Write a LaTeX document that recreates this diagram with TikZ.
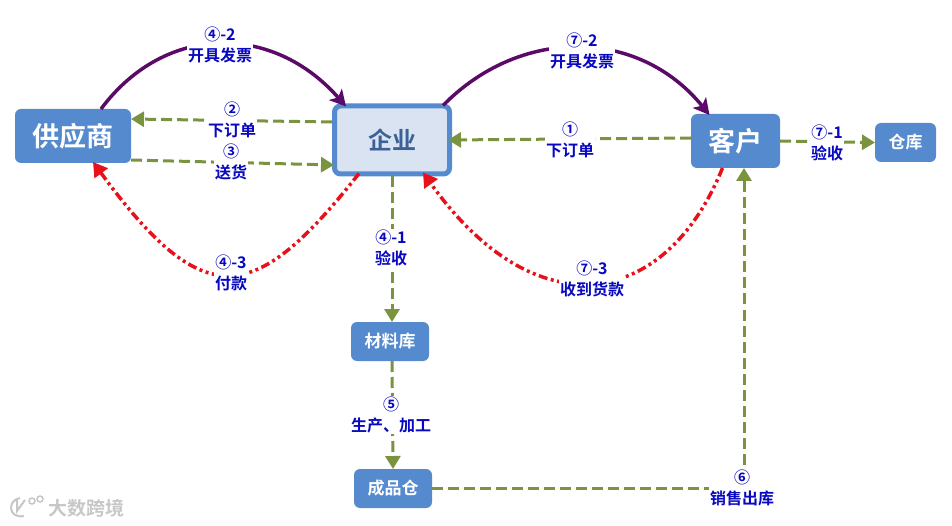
\documentclass[tikz,border=0pt]{standalone}
\usepackage{fontspec}
\setmainfont{Noto Sans CJK SC}[BoldFont={Noto Sans CJK SC Bold}]
\usetikzlibrary{arrows.meta, positioning, calc}
\definecolor{boxblue}{HTML}{558ACF}
\definecolor{boxpale}{HTML}{DAE3F1}
\definecolor{entblue}{HTML}{3B6296}
\definecolor{flowgreen}{HTML}{7A933F}
\definecolor{billpurple}{HTML}{5C0A68}
\definecolor{payred}{HTML}{E8101A}
\definecolor{labelblue}{HTML}{0808C0}

\begin{document}
\begin{tikzpicture}[
    x=1pt, y=-1pt,
    bigbox/.style={fill=boxblue, text=white, rounded corners=6pt, outer sep=0pt, align=center, font=\fontsize{27}{30}\selectfont\bfseries},
    smallbox/.style={fill=boxblue, text=white, rounded corners=6pt, outer sep=0pt, minimum width=78pt, minimum height=39pt, align=center, font=\fontsize{17}{20}\selectfont\bfseries},
    entbox/.style={draw=boxblue, line width=5pt, fill=boxpale, text=entblue, rounded corners=6pt, minimum width=115pt, minimum height=68pt, align=center, font=\fontsize{24}{28}\selectfont\bfseries},
    flowline/.style={draw=flowgreen, line width=3pt, dash pattern=on 11pt off 5pt, -{Triangle[length=13pt,width=15pt,sep=0pt]}},
    billline/.style={draw=billpurple, line width=3.5pt, -{Stealth[length=16pt,width=17pt,inset=4pt]}},
    payline/.style={draw=payred, line width=3.5pt, dash pattern=on 9pt off 3.5pt on 3pt off 3.5pt on 3pt off 3.5pt, -{Triangle[length=14pt,width=16pt,sep=0pt]}},
    steplabel/.style={fill=white, text=labelblue, inner sep=1pt, align=center, font=\fontsize{16}{21}\selectfont\bfseries}
]
    \useasboundingbox (0,0) rectangle (952,526);

    % Boxes
    \node[bigbox, minimum width=116pt, minimum height=54pt] (supplier) at (73,136) {供应商};
    \node[entbox] (firm) at (392,140) {企业};
    \node[bigbox, minimum width=89pt, minimum height=54pt] (client) at (735.5,141) {客户};
    \node[smallbox, minimum width=61pt] (store) at (905.5,142.5) {仓库};
    \node[smallbox] (material) at (390,341.5) {材料库};
    \node[smallbox] (product) at (393,488.5) {成品仓};

    % Invoices
    \draw[billline] ([xshift=28pt]supplier.north) .. controls (165,23) and (273,23) .. ([xshift=-46pt,yshift=-3pt]firm.north);
    \draw[billline] ([xshift=51pt,yshift=-2pt]firm.north) .. controls (520,27) and (638,27) .. ([xshift=-26pt,yshift=-1pt]client.north);

    % Orders and goods
    \draw[flowline] ([yshift=18pt]firm.west) -- ([yshift=17pt]supplier.east);
    \draw[flowline] ([yshift=-24pt]supplier.east) -- ([yshift=-25pt,xshift=2pt]firm.west);
    \draw[flowline] ([yshift=3pt]client.west) -- ([xshift=-4pt]firm.east);
    \draw[flowline] (client.east) -- (store.west);
    \draw[flowline] (firm.south) -- (firm.south |- material.north);
    \draw[flowline] (material.south -| firm.south) -- (product.north);
    \draw[flowline] (product.east) -| ([xshift=8.5pt]client.south);

    % Payments
    \draw[payline] ([xshift=-33pt,yshift=3pt]firm.south) .. controls (255,305) and (205,315) .. ([xshift=20pt,yshift=1pt]supplier.south);
    \draw[payline] ([xshift=-13pt]client.south) .. controls (665,310) and (535,330) .. ([xshift=31pt,yshift=4pt]firm.south);

    % Labels
    \node[steplabel] (l42) at (220,45) {④-2\\开具发票};
    \node[steplabel] (l72) at (582,51) {⑦-2\\开具发票};
    \node[steplabel] (l2) at (232,120) {②\\下订单};
    \node[steplabel] (l3) at (231,162) {③\\送货};
    \node[steplabel] (l1) at (570,140) {①\\下订单};
    \node[steplabel] (l71) at (827,143) {⑦-1\\验收};
    \node[steplabel] (l41) at (391,248) {④-1\\验收};
    \node[steplabel] (l43) at (231,273) {④-3\\付款};
    \node[steplabel] (l73) at (592,279) {⑦-3\\收到货款};
    \node[steplabel] (l5) at (391,415) {⑤\\生产、加工};
    \node[steplabel] (l6) at (742,488) {⑥\\销售出库};

    % Watermark
    \node[text=black!22, font=\fontsize{19}{22}\selectfont\bfseries, inner sep=0pt] (mark) at (86,508) {大数跨境};
    \draw[black!22, line width=2pt] (20,498) .. controls (7,500) and (8,519) .. (24,516);
    \draw[black!22, line width=2pt] (17,500) -- (17,511) -- (25,500);
    \draw[black!22, line width=1.5pt] (32,501) circle (3pt) (40,499) circle (3pt);
\end{tikzpicture}
\end{document}
